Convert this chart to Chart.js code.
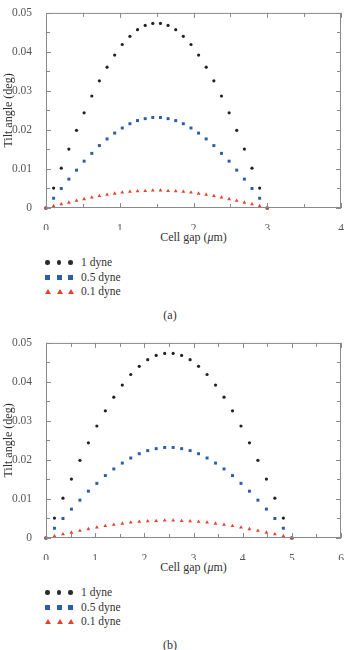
<!DOCTYPE html>
<html>
<head>
<meta charset="utf-8">
<script src="https://cdn.jsdelivr.net/npm/chart.js@4.4.0/dist/chart.umd.min.js"></script>
<style>
  body { margin: 0; background: #fff; width: 359px; height: 650px; overflow: hidden; position: relative; }
  .block { position: absolute; left: 0; width: 359px; height: 320px; }
  .block canvas { position: absolute; left: 0; top: 0; }
  .xtitle { position: absolute; left: 46px; width: 295px; text-align: center; top: 230px;
            font: 12px "Liberation Serif", serif; color: #333; line-height: 14px; }
  .legend { position: absolute; left: 45px; top: 255px; font: 11.5px "Liberation Serif", serif; color: #333; }
  .row { height: 14.6px; line-height: 14.6px; position: relative; white-space: nowrap; }
  .row .mk { position: absolute; top: 5px; }
  .row .lbl { position: absolute; left: 36px; top: 0; }
  .dot { width: 4.5px; height: 4.5px; border-radius: 50%; background: #2b2b2b; }
  .sq { width: 5px; height: 5px; background: #2b5cad; }
  .tri { width: 0; height: 0; border-left: 3px solid transparent; border-right: 3px solid transparent; border-bottom: 5px solid #e8412b; }
  .cap { position: absolute; left: 0; width: 340px; text-align: center; top: 308px;
         font: 12px "Liberation Serif", serif; color: #333; line-height: 14px; }
</style>
</head>
<body>
<div class="block" id="blockA" style="top:0px">
  <canvas id="chartA" width="359" height="230"></canvas>
</div>
<div class="block" id="blockB" style="top:330px">
  <canvas id="chartB" width="359" height="230"></canvas>
</div>
<script>
// cell gap positions, 30 points per panel
const gapA = [0, 0.103, 0.207, 0.31, 0.414, 0.517, 0.621, 0.724, 0.828, 0.931, 1.034, 1.138, 1.241, 1.345, 1.448,
              1.552, 1.655, 1.759, 1.862, 1.966, 2.069, 2.172, 2.276, 2.379, 2.483, 2.586, 2.69, 2.793, 2.897, 3];
const gapB = [0, 0.172, 0.345, 0.517, 0.69, 0.862, 1.034, 1.207, 1.379, 1.552, 1.724, 1.897, 2.069, 2.241, 2.414,
              2.586, 2.759, 2.931, 3.103, 3.276, 3.448, 3.621, 3.793, 3.966, 4.138, 4.31, 4.483, 4.655, 4.828, 5];

// tilt angle (deg), same shape in both panels
const tilt1 = [0, 0.0051, 0.0102, 0.0151, 0.0199, 0.0244, 0.0287, 0.0326, 0.0361, 0.0392, 0.0419, 0.044, 0.0457, 0.0468, 0.0473,
               0.0473, 0.0468, 0.0457, 0.044, 0.0419, 0.0392, 0.0361, 0.0326, 0.0287, 0.0244, 0.0199, 0.0151, 0.0102, 0.0051, 0];
const tilt05 = [0, 0.0025, 0.005, 0.0074, 0.0097, 0.012, 0.014, 0.016, 0.0177, 0.0192, 0.0205, 0.0216, 0.0224, 0.0229, 0.0232,
                0.0232, 0.0229, 0.0224, 0.0216, 0.0205, 0.0192, 0.0177, 0.016, 0.014, 0.012, 0.0097, 0.0074, 0.005, 0.0025, 0];
const tilt01 = [0, 0.0005, 0.001, 0.0014, 0.0019, 0.0023, 0.0027, 0.0031, 0.0034, 0.0037, 0.004, 0.0042, 0.0043, 0.0044, 0.0045,
                0.0045, 0.0044, 0.0043, 0.0042, 0.004, 0.0037, 0.0034, 0.0031, 0.0027, 0.0023, 0.0019, 0.0014, 0.001, 0.0005, 0];

const seriesNames = ["1 dyne", "0.5 dyne", "0.1 dyne"];
const yTicks = [0, 0.01, 0.02, 0.03, 0.04, 0.05];

const serif = "'Liberation Serif', serif";
const frameColor = "#8a8a8a";

// frame + inward ticks on all four sides
const frameTicks = {
  id: "frameTicks",
  afterDraw(chart) {
    const ctx = chart.ctx;
    const a = chart.chartArea;
    const xs = chart.scales.x, ys = chart.scales.y;
    ctx.save();
    ctx.strokeStyle = frameColor;
    ctx.lineWidth = 1;
    ctx.strokeRect(a.left + 0.5, a.top + 0.5, a.right - a.left - 1, a.bottom - a.top - 1);
    ctx.beginPath();
    for (let v = xs.min; v <= xs.max + 1e-9; v += 0.5) {
      const px = Math.round(xs.getPixelForValue(v)) + 0.5;
      const len = Math.abs(v - Math.round(v)) < 1e-9 ? 5 : 4;
      ctx.moveTo(px, a.bottom); ctx.lineTo(px, a.bottom - len);
      ctx.moveTo(px, a.top); ctx.lineTo(px, a.top + len);
    }
    for (let v = ys.min; v <= ys.max + 1e-9; v += 0.005) {
      const py = Math.round(ys.getPixelForValue(v)) + 0.5;
      const len = Math.abs(v * 100 - Math.round(v * 100)) < 1e-6 ? 5 : 4;
      ctx.moveTo(a.left, py); ctx.lineTo(a.left + len, py);
      ctx.moveTo(a.right, py); ctx.lineTo(a.right - len, py);
    }
    ctx.stroke();
    ctx.restore();
  }
};

function makeChart(id, gaps, xMax, blockId, caption) {
  const pts = (vals) => gaps.map((g, i) => ({ x: g, y: vals[i] }));
  new Chart(document.getElementById(id), {
    type: "scatter",
    data: {
      datasets: [
        { label: seriesNames[2], data: pts(tilt01), pointStyle: "triangle", pointRadius: 2.2,
          backgroundColor: "#e8412b", borderColor: "#e8412b", borderWidth: 0, clip: false },
        { label: seriesNames[1], data: pts(tilt05), pointStyle: "rect", pointRadius: 2.1,
          backgroundColor: "#2b5cad", borderColor: "#2b5cad", borderWidth: 0, clip: false },
        { label: seriesNames[0], data: pts(tilt1), pointStyle: "circle", pointRadius: 1.6,
          backgroundColor: "#222", borderColor: "#222", borderWidth: 0, clip: false }
      ]
    },
    options: {
      responsive: false,
      animation: false,
      layout: { padding: { top: 7, right: 18, left: 0, bottom: 0 } },
      plugins: { legend: { display: false }, tooltip: { enabled: false } },
      scales: {
        x: {
          type: "linear", min: 0, max: xMax,
          grid: { display: false }, border: { display: false },
          ticks: { stepSize: 1, padding: 6, color: "#555", font: { family: serif, size: 11.5 } },
          afterFit: (s) => { s.height = 22; }
        },
        y: {
          min: 0, max: 0.05,
          grid: { display: false }, border: { display: false },
          afterBuildTicks: (s) => { s.ticks = yTicks.map(v => ({ value: v })); },
          ticks: { padding: 6, color: "#555", font: { family: serif, size: 11.5 } },
          title: { display: true, text: "Tilt angle (deg)", color: "#333",
                   font: { family: serif, size: 12 }, padding: { top: 2, bottom: 0 } },
          afterFit: (s) => { s.width = 46; }
        }
      }
    },
    plugins: [frameTicks]
  });

  const block = document.getElementById(blockId);
  const xt = document.createElement("div");
  xt.className = "xtitle";
  xt.innerHTML = "Cell gap (<i>μ</i>m)";
  block.appendChild(xt);

  const marks = ["dot", "sq", "tri"];
  const leg = document.createElement("div");
  leg.className = "legend";
  seriesNames.forEach((name, i) => {
    const row = document.createElement("div");
    row.className = "row";
    [0, 11.5, 23].forEach(off => {
      const m = document.createElement("div");
      m.className = "mk " + marks[i];
      m.style.left = off + "px";
      row.appendChild(m);
    });
    const lbl = document.createElement("span");
    lbl.className = "lbl";
    lbl.textContent = name;
    row.appendChild(lbl);
    leg.appendChild(row);
  });
  block.appendChild(leg);

  const cap = document.createElement("div");
  cap.className = "cap";
  cap.textContent = caption;
  block.appendChild(cap);
}

makeChart("chartA", gapA, 4, "blockA", "(a)");
makeChart("chartB", gapB, 6, "blockB", "(b)");
</script>
</body>
</html>
